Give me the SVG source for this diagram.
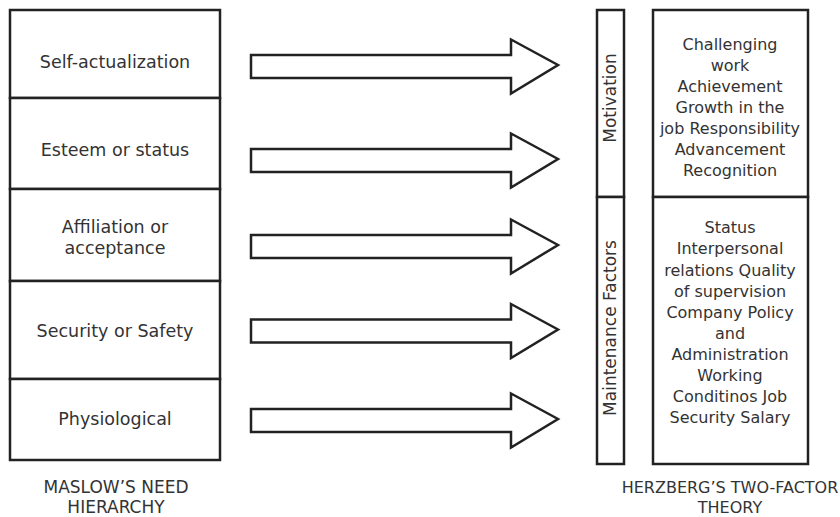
<svg xmlns="http://www.w3.org/2000/svg" width="840" height="517" viewBox="0 0 840 517">
<style>
.box{fill:#fff;stroke:#222;stroke-width:2.5}
.arr{fill:#fff;stroke:#222;stroke-width:2.5;stroke-linejoin:miter}
text{font-family:"DejaVu Sans","Liberation Sans",sans-serif;fill:#333;text-anchor:middle}
.l{font-size:17.5px}
.r{font-size:16px}
.v{font-size:17px}
.cap{font-size:16px}
.cap2{font-size:17px}
</style>
<defs>
<path id="arrow" class="arr" d="M0,-11.5 H260 V-27 L307,-1.5 L260,27 V11.5 H0 Z"/>
</defs>
<rect width="840" height="517" fill="#fff"/>
<g id="maslow">
<g id="self-actualization"><rect class="box" x="10" y="10" width="210" height="88"/><text class="l" x="115" y="68">Self-actualization</text></g>
<g id="esteem"><rect class="box" x="10" y="98" width="210" height="91"/><text class="l" x="115" y="156">Esteem or status</text></g>
<g id="affiliation"><rect class="box" x="10" y="189" width="210" height="92"/><text class="l" x="115" y="233">Affiliation or</text><text class="l" x="115" y="254">acceptance</text></g>
<g id="security"><rect class="box" x="10" y="281" width="210" height="98"/><text class="l" x="115" y="337">Security or Safety</text></g>
<g id="physiological"><rect class="box" x="10" y="379" width="210" height="81"/><text class="l" x="115" y="425">Physiological</text></g>
<g id="maslow-caption"><text class="cap2" x="116" y="493">MASLOW’S NEED</text><text class="cap2" x="116" y="513">HIERARCHY</text></g>
</g>
<g id="connectors">
<use href="#arrow" x="251" y="66.5"/>
<use href="#arrow" x="251" y="160.5"/>
<use href="#arrow" x="251" y="246.5"/>
<use href="#arrow" x="251" y="331"/>
<use href="#arrow" x="251" y="420.5"/>
</g>
<g id="herzberg">
<g id="motivation-label"><rect class="box" x="597" y="10" width="27" height="187"/><text class="v" transform="translate(615.5,98) rotate(-90)">Motivation</text></g>
<g id="maintenance-label"><rect class="box" x="597" y="197" width="27" height="267"/><text class="v" transform="translate(615.5,328) rotate(-90)">Maintenance Factors</text></g>
<g id="motivation-factors"><rect class="box" x="653" y="10" width="155" height="187"/>
<text class="r" x="730" y="50">Challenging</text>
<text class="r" x="730" y="71">work</text>
<text class="r" x="730" y="92">Achievement</text>
<text class="r" x="730" y="113">Growth in the</text>
<text class="r" x="730" y="134">job Responsibility</text>
<text class="r" x="730" y="155">Advancement</text>
<text class="r" x="730" y="176">Recognition</text>
</g>
<g id="maintenance-factors"><rect class="box" x="653" y="197" width="155" height="267"/>
<text class="r" x="730" y="233">Status</text>
<text class="r" x="730" y="254">Interpersonal</text>
<text class="r" x="730" y="276">relations Quality</text>
<text class="r" x="730" y="297">of supervision</text>
<text class="r" x="730" y="318">Company Policy</text>
<text class="r" x="730" y="339">and</text>
<text class="r" x="730" y="360">Administration</text>
<text class="r" x="730" y="381">Working</text>
<text class="r" x="730" y="402">Conditinos Job</text>
<text class="r" x="730" y="423">Security Salary</text>
</g>
<g id="herzberg-caption"><text class="cap" x="730" y="493">HERZBERG’S TWO-FACTOR</text><text class="cap" x="730" y="513">THEORY</text></g>
</g>
</svg>
